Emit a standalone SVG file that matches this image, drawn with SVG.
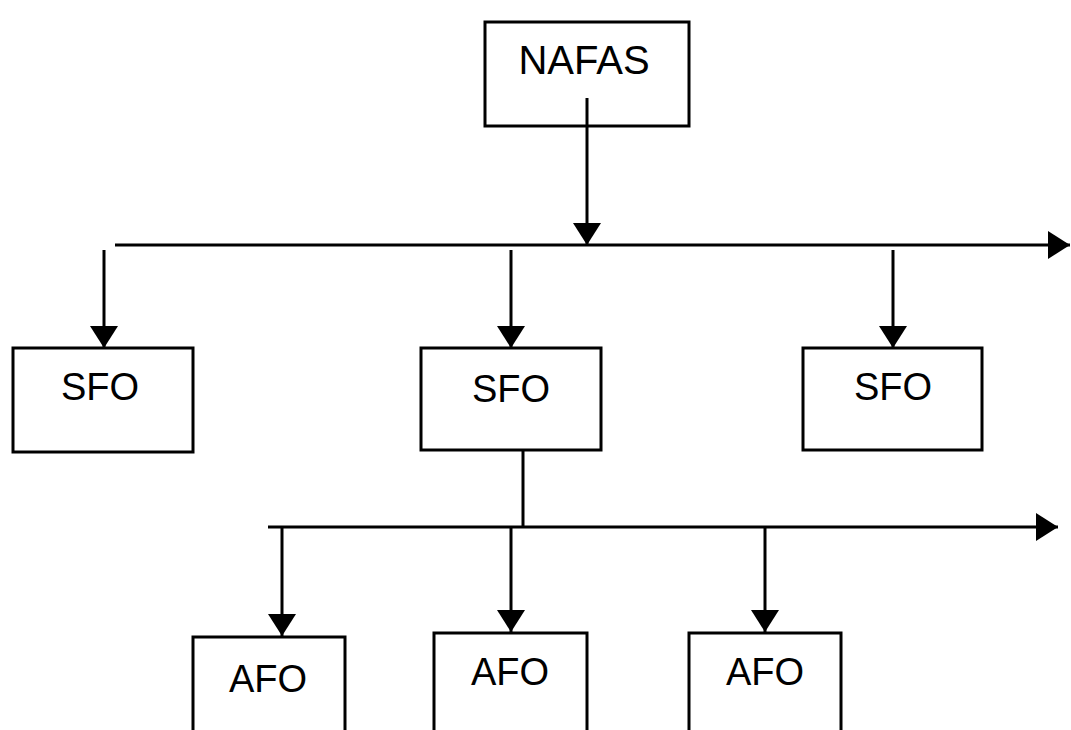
<svg xmlns="http://www.w3.org/2000/svg" width="1071" height="730" viewBox="0 0 1071 730">
<style>
.box{fill:#fff;stroke:#000;stroke-width:3}
.ln{fill:none;stroke:#000;stroke-width:3}
.t{font-family:"Liberation Sans",Arial,sans-serif;font-size:38px;fill:#000;text-anchor:middle}
</style>
<defs>
<marker id="ah" markerUnits="userSpaceOnUse" markerWidth="24" markerHeight="28" refX="22" refY="14" orient="auto" viewBox="0 0 24 28">
<path d="M0,0 L22,14 L0,28 z" fill="#000"/>
</marker>
</defs>
<rect width="1071" height="730" fill="#fff"/>
<g id="nafas">
<rect class="box" x="485" y="22" width="204" height="104"/>
<text class="t" x="584" y="74" style="font-size:40px">NAFAS</text>
</g>
<g id="sfo1">
<rect class="box" x="13" y="348" width="180" height="104"/>
<text class="t" x="100" y="400">SFO</text>
</g>
<g id="sfo2">
<rect class="box" x="421" y="348" width="180" height="102"/>
<text class="t" x="511" y="402">SFO</text>
</g>
<g id="sfo3">
<rect class="box" x="803" y="348" width="179" height="102"/>
<text class="t" x="893" y="400">SFO</text>
</g>
<g id="afo1">
<rect class="box" x="193" y="637" width="152" height="110"/>
<text class="t" x="268" y="692">AFO</text>
</g>
<g id="afo2">
<rect class="box" x="434" y="633" width="153" height="110"/>
<text class="t" x="510" y="685">AFO</text>
</g>
<g id="afo3">
<rect class="box" x="689" y="633" width="152" height="110"/>
<text class="t" x="765" y="685">AFO</text>
</g>
<g id="connectors">
<line class="ln" x1="587" y1="98" x2="587" y2="245" marker-end="url(#ah)"/>
<line class="ln" x1="115" y1="245" x2="1070" y2="245" marker-end="url(#ah)"/>
<line class="ln" x1="104" y1="250" x2="104" y2="348" marker-end="url(#ah)"/>
<line class="ln" x1="511" y1="250" x2="511" y2="348" marker-end="url(#ah)"/>
<line class="ln" x1="893" y1="250" x2="893" y2="348" marker-end="url(#ah)"/>
<line class="ln" x1="523" y1="450" x2="523" y2="527"/>
<line class="ln" x1="268" y1="527" x2="1058" y2="527" marker-end="url(#ah)"/>
<line class="ln" x1="282" y1="528" x2="282" y2="636" marker-end="url(#ah)"/>
<line class="ln" x1="511" y1="528" x2="511" y2="632" marker-end="url(#ah)"/>
<line class="ln" x1="765" y1="528" x2="765" y2="632" marker-end="url(#ah)"/>
</g>
</svg>
